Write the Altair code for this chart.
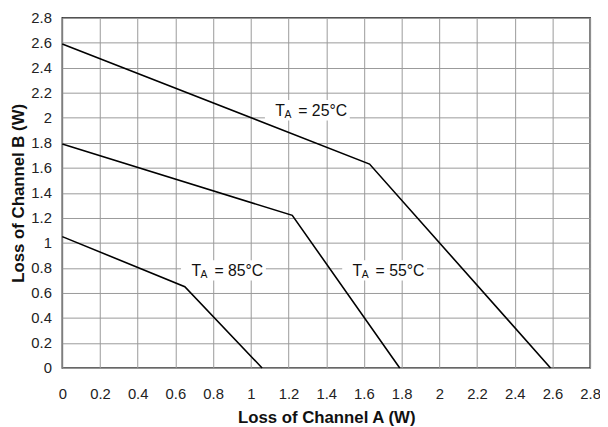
import altair as alt
import pandas as pd

# Curves: loss of channel A (x) vs loss of channel B (y) for each ambient temperature
temps = ["25", "55", "85"]
loss_a_25 = [0.0, 1.63, 2.59]
loss_b_25 = [2.59, 1.63, 0.0]
loss_a_55 = [0.0, 1.22, 1.79]
loss_b_55 = [1.79, 1.22, 0.0]
loss_a_85 = [0.0, 0.65, 1.06]
loss_b_85 = [1.05, 0.65, 0.0]

# Curve labels (temperature, anchor in data units)
label_temps = ["25", "55", "85"]
label_x = [1.30, 1.71, 0.855]
label_y = [2.06, 0.78, 0.78]

tick_values = [0, 0.2, 0.4, 0.6, 0.8, 1, 1.2, 1.4, 1.6, 1.8, 2, 2.2, 2.4, 2.6, 2.8]

rows = []
for t, xs, ys in zip(temps, [loss_a_25, loss_a_55, loss_a_85], [loss_b_25, loss_b_55, loss_b_85]):
    for i, (a, b) in enumerate(zip(xs, ys)):
        rows.append({"temp": t, "i": i, "a": a, "b": b})
lines_df = pd.DataFrame(rows)
labels_df = pd.DataFrame({"temp": label_temps, "x": label_x, "y": label_y})
labels_df["rest"] = "= " + labels_df["temp"] + "°C"

FONT = "Liberation Sans"

xscale = alt.Scale(domain=[0, 2.8], nice=False, zero=False)
yscale = alt.Scale(domain=[0, 2.8], nice=False, zero=False)

x_axis = alt.Axis(values=tick_values, tickCount=len(tick_values), format="~g",
                  title="Loss of Channel A (W)",
                  labelPadding=19, labelOverlap=False, labelFlush=False,
                  titleX=267.5, titleY=50, titleBaseline="middle", titleAlign="center")
y_axis = alt.Axis(values=tick_values, tickCount=len(tick_values), format="~g",
                  title="Loss of Channel B (W)",
                  labelPadding=11, labelOverlap=False, labelFlush=False,
                  titleX=-44, titleY=177.5, titleBaseline="middle",
                  titleAlign="center", titleAngle=270)

lines = alt.Chart(lines_df).mark_line(color="black", strokeWidth=1.6).encode(
    x=alt.X("a:Q", scale=xscale, axis=x_axis),
    y=alt.Y("b:Q", scale=yscale, axis=y_axis),
    detail="temp:N",
    order="i:Q",
)

box_path = "M-1,-0.24L1,-0.24L1,0.24L-1,0.24Z"
boxes = alt.Chart(labels_df).mark_point(
    shape=box_path, size=7396, filled=True, color="white", opacity=1, strokeWidth=0
).encode(x=alt.X("x:Q", scale=xscale), y=alt.Y("y:Q", scale=yscale))

t_text = alt.Chart(labels_df).mark_text(
    text="T", align="left", baseline="alphabetic", dx=-32.5, dy=6,
    fontSize=16, font=FONT, color="#111"
).encode(x=alt.X("x:Q", scale=xscale), y=alt.Y("y:Q", scale=yscale))

a_text = alt.Chart(labels_df).mark_text(
    text="A", align="left", baseline="alphabetic", dx=-23.2, dy=8,
    fontSize=10.5, font=FONT, color="#111"
).encode(x=alt.X("x:Q", scale=xscale), y=alt.Y("y:Q", scale=yscale))

rest_text = alt.Chart(labels_df).mark_text(
    align="left", baseline="alphabetic", dx=-9.2, dy=6,
    fontSize=16, font=FONT, color="#111"
).encode(x=alt.X("x:Q", scale=xscale), y=alt.Y("y:Q", scale=yscale), text="rest:N")

chart = alt.layer(lines, boxes, t_text, a_text, rest_text).properties(
    width=535, height=355,
    autosize=alt.AutoSizeParams(type="none"),
    padding={"left": 55, "top": 7, "right": 10, "bottom": 57},
).configure_view(
    stroke="#333", strokeWidth=1.5
).configure_axis(
    domain=False, ticks=False, tickSize=0, grid=True, gridColor="#999", gridWidth=1,
    labelFont=FONT, labelFontSize=15, labelColor="#222",
    titleFont=FONT, titleFontSize=17, titleFontWeight="bold", titleColor="#111",
)

chart.save("out.html", embed_options={"renderer": "svg", "actions": False})
